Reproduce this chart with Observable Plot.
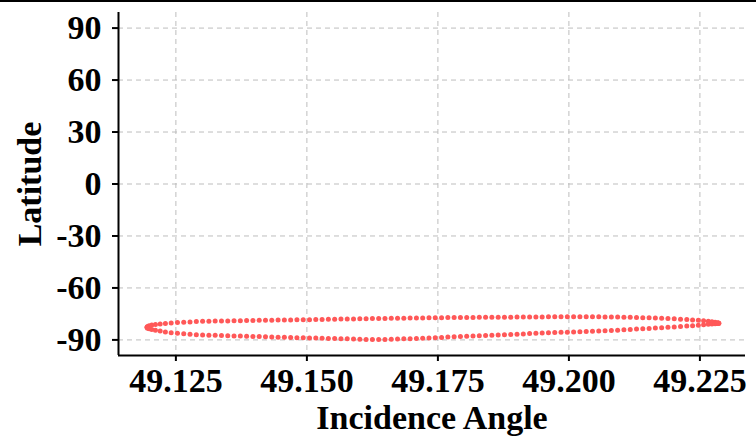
<!DOCTYPE html>
<html>
<head>
<meta charset="utf-8">
<script src="https://cdn.jsdelivr.net/npm/d3@7"></script>
<script src="https://cdn.jsdelivr.net/npm/@observablehq/plot@0.6"></script>
<style>
  html, body { margin: 0; padding: 0; background: #fff; }
  #chart { width: 756px; height: 434px; border-top: 2px solid #000; }
  svg { display: block; }
</style>
</head>
<body>
<div id="chart"></div>
<script>
// Incidence angle samples (shared by both branches of the loop)
const incidence = [
  49.1195, 49.1196, 49.1199, 49.1204, 49.1211, 49.1220, 49.1230, 49.1241, 49.1253, 49.1265, 49.1277,
  49.1289, 49.1301, 49.1313, 49.1325, 49.1337, 49.1349, 49.1361, 49.1373, 49.1385, 49.1397,
  49.1409, 49.1421, 49.1433, 49.1445, 49.1457, 49.1469, 49.1481, 49.1493, 49.1505, 49.1517,
  49.1529, 49.1541, 49.1553, 49.1565, 49.1577, 49.1589, 49.1601, 49.1613, 49.1625, 49.1637,
  49.1649, 49.1661, 49.1673, 49.1685, 49.1697, 49.1709, 49.1721, 49.1733, 49.1745, 49.1757,
  49.1769, 49.1781, 49.1793, 49.1805, 49.1817, 49.1829, 49.1841, 49.1853, 49.1865, 49.1877,
  49.1889, 49.1901, 49.1913, 49.1925, 49.1937, 49.1949, 49.1961, 49.1973, 49.1985, 49.1997,
  49.2009, 49.2021, 49.2033, 49.2045, 49.2057, 49.2069, 49.2081, 49.2093, 49.2105, 49.2117,
  49.2129, 49.2141, 49.2153, 49.2165, 49.2177, 49.2189, 49.2201, 49.2213,
  49.2225, 49.2236, 49.2247, 49.2257, 49.2266, 49.2273, 49.2279, 49.2283, 49.2285, 49.2286
];
// Latitude on the upper branch
const latUpper = [
  -82.7, -82.2, -81.8, -81.4, -81.1, -80.8, -80.5, -80.2, -80.0, -79.8, -79.6,
  -79.35, -79.27, -79.21, -79.15, -79.08, -79.02, -78.96, -78.89, -78.83, -78.77,
  -78.72, -78.67, -78.62, -78.57, -78.52, -78.47, -78.42, -78.36, -78.30, -78.23,
  -78.17, -78.11, -78.05, -77.98, -77.92, -77.86, -77.81, -77.76, -77.71, -77.66,
  -77.61, -77.56, -77.51, -77.46, -77.41, -77.36, -77.31, -77.26, -77.21, -77.16,
  -77.11, -77.08, -77.05, -77.03, -77.00, -76.98, -76.95, -76.93, -76.90, -76.88,
  -76.85, -76.83, -76.80, -76.77, -76.75, -76.72, -76.70, -76.68, -76.67, -76.65,
  -76.64, -76.62, -76.60, -76.63, -76.67, -76.72, -76.76, -76.80, -76.88, -76.97,
  -77.05, -77.14, -77.24, -77.38, -77.53, -77.68, -77.82, -78.01,
  -78.23, -78.44, -78.70, -78.97, -79.25, -79.5, -79.8, -80.05, -80.25, -80.4
];
// Latitude on the lower branch
const latLower = [
  -82.7, -83.2, -83.6, -84.0, -84.4, -84.9, -85.4, -85.8, -86.2, -86.5, -86.8,
  -87.03, -87.15, -87.26, -87.38, -87.48, -87.59, -87.70, -87.80, -87.90, -88.00,
  -88.10, -88.20, -88.30, -88.40, -88.50, -88.60, -88.70, -88.80, -88.88, -88.96,
  -89.05, -89.13, -89.22, -89.30, -89.40, -89.50, -89.60, -89.70, -89.75, -89.75,
  -89.70, -89.62, -89.52, -89.40, -89.27, -89.13, -88.98, -88.84, -88.70, -88.55,
  -88.39, -88.23, -88.07, -87.91, -87.76, -87.60, -87.44, -87.28, -87.12, -86.97,
  -86.82, -86.67, -86.52, -86.36, -86.21, -86.06, -85.91, -85.78, -85.65, -85.52,
  -85.39, -85.26, -85.13, -85.00, -84.85, -84.70, -84.55, -84.40, -84.19, -83.98,
  -83.77, -83.56, -83.35, -83.14, -82.93, -82.72, -82.51, -82.28,
  -82.02, -81.78, -81.52, -81.25, -81.0, -80.8, -80.65, -80.52, -80.45, -80.4
];
const xTicks = [49.125, 49.150, 49.175, 49.200, 49.225];
const yTicks = [-90, -60, -30, 0, 30, 60, 90];
const xDomain = [49.11405, 49.2337];
const yDomain = [-99, 99];
const xLabel = "Incidence Angle";
const yLabel = "Latitude";

const points = [
  ...incidence.map((x, i) => ({x, y: latUpper[i]})),
  ...incidence.map((x, i) => ({x, y: latLower[i]}))
];

const font = "Liberation Serif";
const chart = Plot.plot({
  width: 756,
  height: 434,
  marginLeft: 118,
  marginRight: 11,
  marginTop: 10,
  marginBottom: 81,
  style: {fontFamily: font, fontWeight: "bold", fontSize: "33px", color: "#000", background: "#fff", overflow: "visible"},
  x: {domain: xDomain},
  y: {domain: yDomain},
  marks: [
    Plot.gridX(xTicks, {stroke: "#bdbdbd", strokeOpacity: 1, strokeWidth: 1, strokeDasharray: "5,4"}),
    Plot.gridY(yTicks, {stroke: "#bdbdbd", strokeOpacity: 1, strokeWidth: 1, strokeDasharray: "5,4"}),
    Plot.dot(points, {x: "x", y: "y", r: 2.5, fill: "#ff5858", stroke: null}),
    Plot.ruleX([xDomain[0]], {stroke: "#000", strokeWidth: 2}),
    Plot.ruleY([yDomain[0]], {stroke: "#000", strokeWidth: 2}),
    Plot.axisX(xTicks, {tickSize: 6, tickPadding: 6, strokeWidth: 2, stroke: "#000", fill: "#000", fontSize: 34, fontWeight: "bold", tickFormat: d => d.toFixed(3), label: null}),
    Plot.axisY(yTicks, {tickSize: 6, tickPadding: 11, strokeWidth: 2, stroke: "#000", fill: "#000", fontSize: 34, fontWeight: "bold", tickFormat: d => String(d), label: null}),
    Plot.text([xLabel], {frameAnchor: "bottom", dy: 63, textAnchor: "middle", lineAnchor: "middle", fontSize: 34, fontWeight: "bold", fill: "#000"}),
    Plot.text([yLabel], {frameAnchor: "left", dx: -88, rotate: -90, textAnchor: "middle", lineAnchor: "middle", fontSize: 34, fontWeight: "bold", fill: "#000"})
  ]
});
document.getElementById("chart").appendChild(chart);
</script>
</body>
</html>
